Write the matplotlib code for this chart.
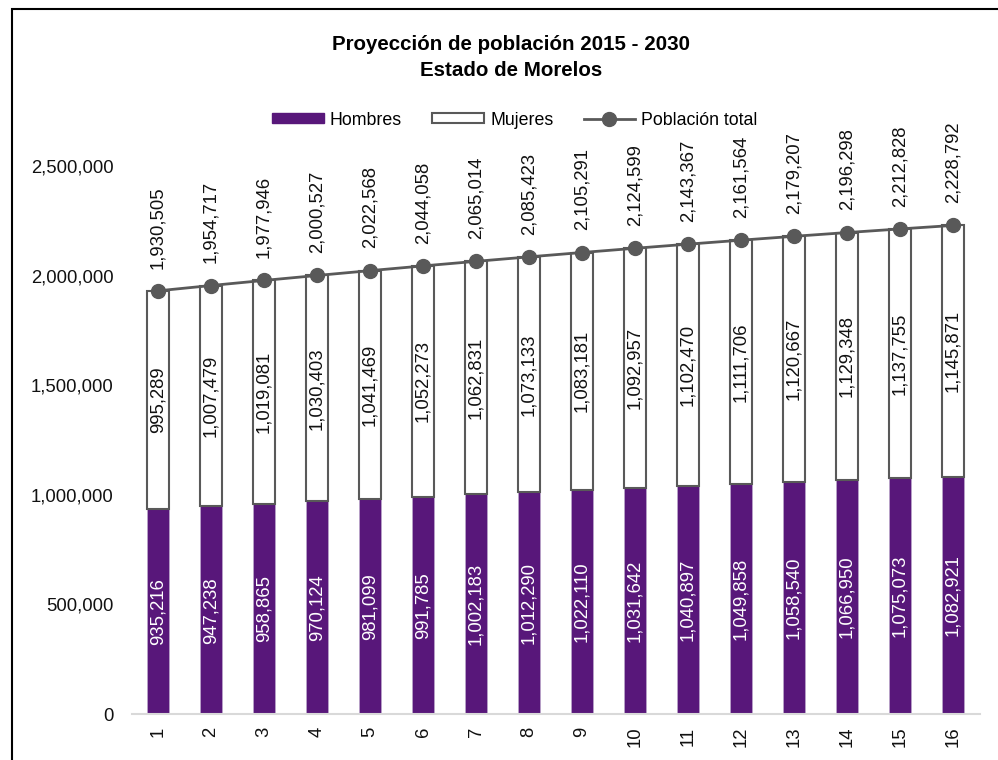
import matplotlib
matplotlib.use("Agg")
import matplotlib.pyplot as plt
from matplotlib.lines import Line2D
from matplotlib.patches import Patch, Rectangle
from matplotlib.ticker import FuncFormatter

PURPLE = "#58177a"
GREY = "#595959"

periodos = list(range(1, 17))
hombres = [935216, 947238, 958865, 970124, 981099, 991785, 1002183, 1012290,
           1022110, 1031642, 1040897, 1049858, 1058540, 1066950, 1075073, 1082921]
mujeres = [995289, 1007479, 1019081, 1030403, 1041469, 1052273, 1062831, 1073133,
           1083181, 1092957, 1102470, 1111706, 1120667, 1129348, 1137755, 1145871]
total = [1930505, 1954717, 1977946, 2000527, 2022568, 2044058, 2065014, 2085423,
         2105291, 2124599, 2143367, 2161564, 2179207, 2196298, 2212828, 2228792]

plt.rcParams["font.family"] = ["Liberation Sans", "DejaVu Sans"]
FS = 13.3

fig = plt.figure(figsize=(9.98, 7.6), dpi=100)
ax = fig.add_axes([0.1318, 0.0605, 0.8497, 0.7211])

x = list(range(len(periodos)))
w = 0.43
ax.bar(x, hombres, width=w, color=PURPLE, edgecolor="#b9a3c8", linewidth=0.6, zorder=2)
ax.bar(x, mujeres, width=w, bottom=hombres, color="white", edgecolor=GREY,
       linewidth=1.5, zorder=2)
ax.plot(x, total, color=GREY, linewidth=2, marker="o", markersize=10, zorder=3)

fmt = lambda v: f"{v:,.0f}"
for i in x:
    ax.text(i, hombres[i] / 2, fmt(hombres[i]), rotation=90, ha="center",
            va="center", color="white", fontsize=FS, zorder=4)
    ax.text(i, hombres[i] + mujeres[i] / 2, fmt(mujeres[i]), rotation=90,
            ha="center", va="center", color="#111111", fontsize=FS, zorder=4)
    ax.annotate(fmt(total[i]), (i, total[i]), xytext=(0, 16),
                textcoords="offset points", rotation=90, ha="center",
                va="bottom", color="#111111", fontsize=FS, annotation_clip=False)

ax.set_xlim(-0.5, len(periodos) - 0.5)
ax.set_ylim(0, 2500000)
ax.set_yticks(range(0, 2500001, 500000))
ax.yaxis.set_major_formatter(FuncFormatter(lambda v, p: fmt(v)))
ax.set_xticks(x)
ax.set_xticklabels([str(p) for p in periodos], rotation=90)
ax.tick_params(axis="both", length=0, labelsize=FS, colors="#111111")
ax.tick_params(axis="y", pad=13)
ax.tick_params(axis="x", pad=9)
for s in ("top", "right", "left"):
    ax.spines[s].set_visible(False)
ax.spines["bottom"].set_color("#d9d9d9")
ax.spines["bottom"].set_linewidth(1.5)

fig.text(0.512, 0.942, "Proyección de población 2015 - 2030", ha="center",
         va="center", fontsize=14.8, fontweight="bold")
fig.text(0.512, 0.907, "Estado de Morelos", ha="center", va="center",
         fontsize=14.8, fontweight="bold")

handles = [Patch(facecolor=PURPLE, edgecolor=PURPLE),
           Patch(facecolor="white", edgecolor=GREY, linewidth=1.5),
           Line2D([0], [0], color=GREY, linewidth=2, marker="o", markersize=10)]
fig.legend(handles, ["Hombres", "Mujeres", "Población total"], loc="center",
           bbox_to_anchor=(0.516, 0.842), ncol=3, frameon=False, fontsize=12.8,
           handlelength=2.9, handleheight=0.5, columnspacing=1.7, handletextpad=0.35)

fig.patches.append(Rectangle((12 / 998, -0.1), 1.2, 1 - 9 / 760 + 0.1,
                             transform=fig.transFigure, fill=False,
                             edgecolor="black", linewidth=1.5))

fig.savefig("out.png", dpi=100)
